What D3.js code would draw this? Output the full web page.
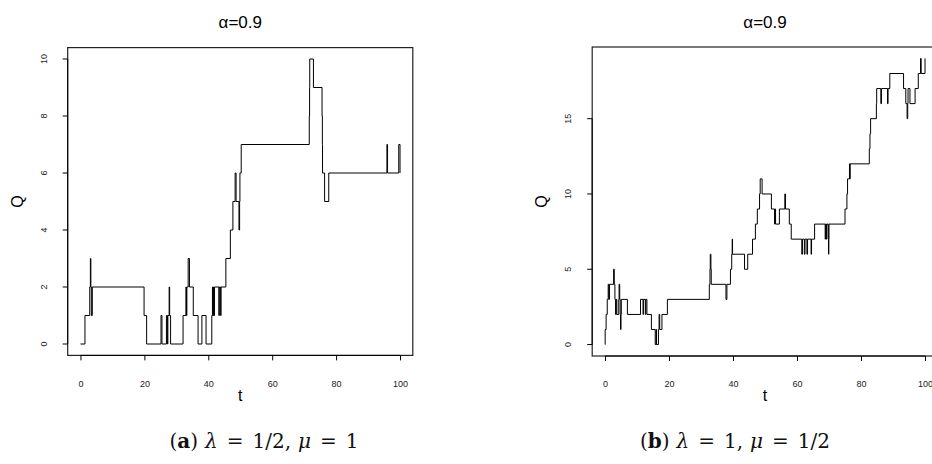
<!DOCTYPE html>
<html>
<head>
<meta charset="utf-8">
<script src="https://cdn.jsdelivr.net/npm/d3@7"></script>
<style>
  body { margin: 0; background: #fff; }
  svg { display: block; }
</style>
</head>
<body>
<div id="chart"></div>
<script>
// Event times and queue length after each event, panel (a)
const tA = [0, 1.4, 2.9, 3.1, 3.25, 3.4, 3.7, 19.9, 20.7, 25.2, 25.5, 26.9, 27.2, 27.35, 27.75, 27.9, 28.2,
  32.1, 33.0, 33.15, 33.3, 33.7, 34.1, 35.3, 36.8, 38.0, 39.3, 41.1, 41.3, 41.45, 41.6, 41.8, 41.95,
  43.3, 43.45, 43.85, 44.0, 45.5, 46.9, 47.7, 48.4, 48.7, 49.6, 49.8, 49.9, 50.3,
  71.6, 71.7, 71.75, 72.9, 75.6, 75.7, 75.75, 76.4, 77.7, 95.9, 96.1, 99.6, 100]
const qA = [0, 1, 2, 3, 2, 1, 2, 1, 0, 1, 0, 1, 0, 1, 2, 1, 0,
  1, 2, 1, 2, 3, 2, 1, 0, 1, 0, 1, 2, 1, 2, 1, 2,
  1, 2, 1, 2, 3, 4, 5, 6, 5, 4, 5, 6, 7,
  8, 9, 10, 9, 8, 7, 6, 5, 6, 7, 6, 7, 6]

// Event times and queue length after each event, panel (b)
const tB = [0, 0.05, 0.35, 0.7, 1.0, 1.2, 1.4, 2.7, 2.9, 3.1, 3.3, 3.5, 3.7, 4.3, 4.4, 4.6, 4.75, 4.85, 5.0, 5.1,
  7.0, 11.1, 11.9, 12.0, 12.6, 12.75, 13.1, 14.5, 15.7, 16.0, 16.1, 16.7, 16.9, 17.1, 17.8, 19.5,
  32.6, 32.8, 32.9, 33.1, 33.2, 37.8, 38.1, 39.2, 39.6, 39.75, 39.85, 43.6, 44.6, 46.1, 47.0, 47.6,
  48.3, 48.5, 49.1, 52.0, 53.0, 53.1, 53.3, 54.5, 56.2, 56.4, 57.6, 58.2, 61.5, 61.7, 62.3, 62.5,
  63.1, 63.3, 64.4, 64.55, 65.5, 68.8, 68.95, 69.2, 69.35, 69.8, 69.85, 69.95, 70.0,
  75.0, 75.6, 75.8, 76.4, 76.5, 76.6, 82.6, 82.8, 83.0, 84.8, 84.9, 86.2, 86.4, 88.3, 88.45, 89.0,
  93.3, 94.0, 94.4, 94.6, 94.7, 95.3, 96.9, 97.9, 98.6, 98.8, 100]
const qB = [0, 1, 2, 3, 4, 3, 4, 5, 4, 3, 2, 3, 2, 3, 4, 3, 2, 1, 2, 3,
  2, 3, 2, 3, 2, 3, 2, 1, 0, 1, 0, 1, 2, 1, 2, 3,
  4, 5, 6, 5, 4, 3, 4, 5, 6, 7, 6, 5, 6, 7, 8, 9,
  10, 11, 10, 9, 8, 9, 8, 9, 10, 9, 8, 7, 6, 7, 6, 7,
  6, 7, 6, 7, 8, 7, 8, 7, 8, 7, 6, 7, 8,
  9, 10, 11, 12, 11, 12, 13, 14, 15, 16, 17, 16, 17, 16, 17, 18,
  17, 16, 15, 16, 17, 16, 17, 18, 19, 18, 19]

const xTicks = [0, 20, 40, 60, 80, 100]
const yTicksA = [0, 2, 4, 6, 8, 10]
const yTicksB = [0, 5, 10, 15]
const titles = ['α=0.9', 'α=0.9']

const W = 932
const H = 464

const svg = d3.select('#chart')
  .append('svg')
  .attr('width', W)
  .attr('height', H)

// one R-style step plot
function panel (t, q, yTicks, ymax, box, title) {
  const pad = 0.04
  const x = d3.scaleLinear()
    .domain([-pad * 100, 100 + pad * 100])
    .range([box.left, box.right])
  const y = d3.scaleLinear()
    .domain([-pad * ymax, ymax + pad * ymax])
    .range([box.bottom, box.top])

  const g = svg.append('g')

  const pts = t.map((d, i) => [d, q[i]])
  const line = d3.line()
    .x(d => x(d[0]))
    .y(d => y(d[1]))
    .curve(d3.curveStepAfter)

  g.append('path')
    .datum(pts)
    .attr('d', line)
    .attr('fill', 'none')
    .attr('stroke', '#000')
    .attr('stroke-width', 1)

  g.append('rect')
    .attr('x', box.left)
    .attr('y', box.top)
    .attr('width', box.right - box.left)
    .attr('height', box.bottom - box.top)
    .attr('fill', 'none')
    .attr('stroke', '#222')
    .attr('stroke-width', 1.2)

  const xAxis = g.append('g')
    .attr('transform', `translate(0,${box.bottom})`)
    .call(d3.axisBottom(x).tickValues(xTicks).tickSize(5).tickPadding(20))
  xAxis.select('.domain')
    .attr('d', `M${x(0)},0H${x(100)}`)
  xAxis.selectAll('text')
    .attr('font-family', 'Liberation Sans, Arial, sans-serif')
    .attr('font-size', 9)
    .attr('fill', '#222')

  const yAxis = g.append('g')
    .attr('transform', `translate(${box.left},0)`)
    .call(d3.axisLeft(y).tickValues(yTicks).tickSize(5))
  yAxis.select('.domain')
    .attr('d', `M0,${y(yTicks[0])}V${y(yTicks[yTicks.length - 1])}`)
  yAxis.selectAll('text')
    .attr('font-family', 'Liberation Sans, Arial, sans-serif')
    .attr('font-size', 9)
    .attr('fill', '#222')
    .attr('text-anchor', 'middle')
    .attr('dy', null)
    .attr('x', null)
    .attr('transform', d => `translate(-24,${y(d)}) rotate(-90)`)
    .attr('y', 0)
    .attr('dominant-baseline', 'central')
  yAxis.selectAll('.tick').attr('transform', null)
  yAxis.selectAll('.tick line').attr('transform', d => `translate(0,${y(d)})`)

  const cx = (box.left + box.right) / 2

  g.append('text')
    .attr('x', cx)
    .attr('y', 28)
    .attr('text-anchor', 'middle')
    .attr('font-family', 'Liberation Sans, Arial, sans-serif')
    .attr('font-size', 17)
    .text(title)

  g.append('text')
    .attr('x', cx)
    .attr('y', 401)
    .attr('text-anchor', 'middle')
    .attr('font-family', 'Liberation Sans, Arial, sans-serif')
    .attr('font-size', 16)
    .text('t')

  g.append('text')
    .attr('transform', `translate(${box.left - 45},${(box.top + box.bottom) / 2}) rotate(-90)`)
    .attr('text-anchor', 'middle')
    .attr('font-family', 'Liberation Sans, Arial, sans-serif')
    .attr('font-size', 16)
    .text('Q')
}

panel(tA, qA, yTicksA, 10, { left: 67.7, right: 412.8, top: 47.6, bottom: 355.4 }, titles[0])
panel(tB, qB, yTicksB, 19, { left: 592.2, right: 937.8, top: 47, bottom: 356 }, titles[1])

// sub-figure captions, math spacing added by hand
function caption (cx, letter, lam, mu) {
  const txt = svg.append('text')
    .attr('x', cx)
    .attr('y', 448)
    .attr('text-anchor', 'middle')
    .attr('font-family', 'DejaVu Serif, Liberation Serif, serif')
    .attr('font-size', 20)
    .attr('fill', '#111')
  txt.append('tspan').text('(')
  txt.append('tspan').attr('font-weight', 'bold').text(letter)
  txt.append('tspan').text(')')
  txt.append('tspan').attr('dx', 7).attr('font-style', 'italic').text('λ')
  txt.append('tspan').attr('dx', 9).text('=')
  txt.append('tspan').attr('dx', 9).text(`${lam},`)
  txt.append('tspan').attr('dx', 7).attr('font-style', 'italic').text('μ')
  txt.append('tspan').attr('dx', 9).text('=')
  txt.append('tspan').attr('dx', 9).text(mu)
}

caption(264, 'a', '1/2', '1')
caption(735, 'b', '1', '1/2')
</script>
</body>
</html>
